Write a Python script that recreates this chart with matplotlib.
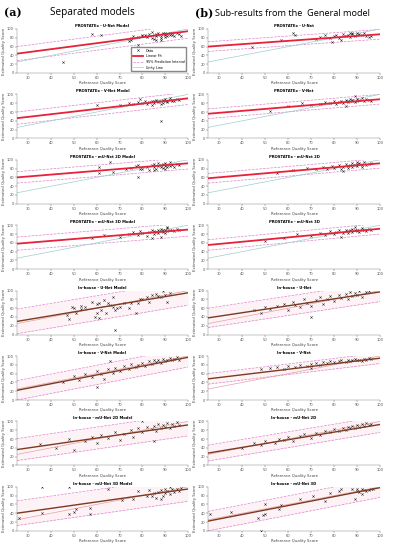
import numpy as np
import matplotlib.pyplot as plt

# titles of the panels
left_titles = ['PROSTATEx - U-Net Model', 'PROSTATEx - V-Net Model',
               'PROSTATEx - mU-Net 2D Model', 'PROSTATEx - mU-Net 3D Model',
               'In-house - U-Net Model', 'In-house - V-Net Model',
               'In-house - mU-Net 2D Model', 'In-house - mU-Net 3D Model']
right_titles = ['PROSTATEx - U-Net', 'PROSTATEx - V-Net',
                'PROSTATEx - mU-Net 2D', 'PROSTATEx - mU-Net 3D',
                'In-house - U-Net', 'In-house - V-Net',
                'In-house - mU-Net 2D', 'In-house - mU-Net 3D']

# fit line: value at x=25, value at x=100, PI half width
left_fit = [(44, 95, 16), (46, 91, 14), (60, 92, 13), (58, 90, 15),
            (30, 95, 28), (22, 97, 22), (36, 92, 25), (40, 95, 28)]
right_fit = [(60, 88, 11), (56, 89, 11), (58, 92, 11), (55, 92, 12),
             (38, 97, 22), (48, 95, 12), (28, 93, 18), (22, 98, 22)]

# scatter data, separated models
L1_x = [45, 58, 62, 74, 75, 75, 76, 78, 78, 80, 81, 82, 82, 83, 84, 85, 85, 86, 86, 87, 87, 88, 88, 89, 89, 90, 90, 90, 91, 91, 92, 92, 93, 93, 94, 95, 96, 97, 88, 86, 84, 80]
L1_y = [25, 88, 87, 72, 75, 79, 85, 63, 82, 84, 86, 85, 82, 88, 80, 86, 78, 88, 84, 86, 90, 84, 80, 88, 92, 86, 82, 90, 88, 84, 90, 87, 86, 92, 84, 90, 88, 84, 76, 74, 93, 86]
L2_x = [60, 70, 74, 76, 78, 80, 81, 82, 83, 84, 85, 85, 86, 87, 87, 88, 88, 89, 89, 90, 90, 91, 91, 92, 92, 93, 94, 95, 96, 88, 84, 79]
L2_y = [75, 76, 80, 78, 82, 80, 84, 78, 82, 86, 80, 85, 88, 82, 86, 40, 84, 80, 88, 84, 90, 86, 82, 88, 92, 86, 84, 90, 88, 78, 76, 90]
L3_x = [61, 61, 66, 67, 73, 75, 77, 78, 78, 79, 80, 82, 83, 84, 85, 85, 86, 87, 87, 88, 88, 89, 89, 90, 90, 91, 91, 92, 92, 93, 94, 95, 96, 85, 90]
L3_y = [70, 84, 95, 73, 78, 82, 85, 62, 88, 78, 80, 84, 76, 88, 84, 90, 80, 86, 92, 84, 88, 82, 90, 86, 92, 84, 88, 94, 86, 88, 84, 90, 88, 76, 80]
L4_x = [58, 63, 70, 74, 76, 78, 79, 80, 82, 83, 84, 85, 85, 86, 87, 87, 88, 88, 89, 89, 90, 90, 91, 91, 92, 93, 94, 95, 96, 84, 88, 91]
L4_y = [72, 78, 74, 80, 84, 78, 86, 82, 76, 84, 88, 80, 86, 84, 90, 82, 86, 92, 84, 88, 90, 82, 86, 94, 88, 90, 86, 92, 88, 70, 74, 96]
L5_x = [47, 48, 49, 50, 51, 53, 53, 55, 58, 59, 60, 60, 61, 61, 62, 63, 64, 65, 66, 67, 67, 68, 68, 69, 70, 72, 74, 75, 77, 78, 79, 80, 82, 83, 84, 86, 87, 88, 89, 90, 91, 92]
L5_y = [45, 35, 62, 60, 48, 65, 58, 62, 75, 40, 70, 48, 72, 38, 55, 78, 50, 72, 68, 62, 85, 55, 10, 60, 62, 72, 60, 72, 50, 72, 82, 80, 85, 75, 90, 92, 88, 85, 100, 90, 75, 95]
L6_x = [45, 50, 52, 55, 58, 60, 62, 63, 65, 67, 68, 70, 72, 74, 75, 77, 78, 80, 81, 83, 84, 85, 86, 87, 88, 89, 90, 91, 92, 93, 94, 95, 96, 60, 66]
L6_y = [40, 55, 45, 60, 52, 65, 58, 48, 70, 62, 72, 65, 78, 70, 82, 74, 80, 85, 78, 88, 82, 90, 86, 92, 84, 94, 88, 92, 96, 90, 94, 98, 92, 30, 88]
L7_x = [35, 42, 48, 50, 55, 58, 60, 62, 65, 68, 70, 72, 75, 76, 78, 80, 82, 84, 85, 86, 87, 88, 89, 90, 91, 92, 93, 94, 95, 96, 80, 85]
L7_y = [48, 40, 60, 35, 55, 65, 50, 70, 62, 75, 58, 72, 80, 65, 85, 75, 88, 82, 90, 78, 94, 86, 92, 88, 96, 84, 94, 90, 98, 92, 100, 55]
L8_x = [36, 48, 65, 26, 36, 48, 50, 51, 57, 57, 71, 76, 78, 82, 83, 85, 86, 87, 88, 89, 90, 90, 91, 92, 92, 93, 94, 95, 96, 97, 88, 84]
L8_y = [100, 100, 95, 28, 40, 38, 42, 50, 38, 52, 70, 72, 90, 80, 92, 85, 75, 88, 92, 80, 95, 86, 90, 100, 84, 94, 88, 96, 90, 98, 72, 78]

# scatter data, general model
R1_x = [44, 57, 62, 63, 72, 74, 76, 78, 79, 80, 81, 82, 84, 85, 86, 87, 87, 88, 89, 90, 90, 91, 92, 93, 94, 95, 96, 83, 88]
R1_y = [58, 75, 90, 86, 78, 82, 86, 80, 70, 84, 86, 80, 88, 84, 86, 82, 90, 88, 84, 90, 86, 88, 86, 90, 84, 82, 84, 76, 92]
R2_x = [52, 60, 66, 70, 74, 76, 78, 80, 81, 82, 83, 84, 85, 86, 86, 87, 88, 88, 89, 90, 90, 91, 92, 93, 94, 95, 96, 85, 89]
R2_y = [62, 74, 80, 76, 78, 82, 80, 84, 78, 82, 86, 80, 88, 82, 86, 90, 84, 88, 82, 90, 86, 88, 92, 86, 90, 88, 84, 74, 96]
R3_x = [55, 62, 68, 72, 75, 77, 79, 80, 82, 83, 84, 85, 86, 86, 87, 88, 88, 89, 90, 90, 91, 92, 92, 93, 94, 95, 96, 84, 90]
R3_y = [70, 76, 82, 78, 84, 80, 86, 82, 88, 80, 84, 90, 86, 82, 88, 92, 84, 88, 90, 86, 92, 88, 84, 94, 88, 90, 92, 74, 96]
R4_x = [50, 58, 64, 70, 74, 76, 78, 80, 81, 82, 84, 85, 86, 86, 87, 88, 88, 89, 90, 90, 91, 92, 92, 93, 94, 95, 96, 83, 89]
R4_y = [64, 70, 80, 76, 82, 78, 86, 80, 84, 88, 82, 90, 86, 82, 88, 84, 92, 88, 86, 90, 84, 88, 94, 90, 86, 92, 88, 74, 96]
R5_x = [45, 48, 50, 52, 55, 58, 60, 62, 63, 65, 67, 68, 70, 72, 74, 75, 77, 78, 80, 82, 83, 85, 86, 87, 88, 89, 90, 91, 92, 94, 95, 70]
R5_y = [55, 48, 62, 58, 65, 70, 56, 75, 68, 62, 80, 72, 66, 78, 85, 70, 82, 88, 76, 90, 84, 92, 80, 96, 88, 94, 90, 100, 86, 96, 98, 40]
R6_x = [48, 52, 55, 58, 60, 63, 65, 68, 70, 72, 74, 75, 77, 78, 80, 82, 83, 85, 86, 87, 88, 89, 90, 91, 92, 93, 94, 95, 96, 70]
R6_y = [70, 72, 74, 70, 78, 76, 80, 78, 82, 84, 80, 86, 84, 88, 86, 88, 90, 86, 92, 88, 90, 94, 90, 92, 88, 94, 92, 96, 94, 72]
R7_x = [40, 45, 48, 50, 54, 56, 58, 60, 62, 65, 67, 70, 72, 74, 76, 78, 80, 82, 84, 85, 86, 87, 88, 89, 90, 91, 92, 93, 94, 95, 96]
R7_y = [40, 52, 46, 55, 50, 60, 58, 64, 56, 66, 72, 62, 74, 70, 78, 76, 82, 78, 86, 80, 88, 84, 90, 86, 92, 88, 94, 90, 96, 92, 94]
R8_x = [26, 35, 47, 48, 49, 50, 50, 56, 57, 65, 71, 76, 78, 82, 83, 89, 90, 91, 92, 93, 94, 95, 96, 97, 92, 90, 88]
R8_y = [38, 42, 28, 0, 35, 38, 60, 50, 58, 72, 80, 68, 85, 90, 95, 72, 90, 88, 84, 92, 90, 92, 94, 95, 96, 95, 94]

left_x = [L1_x, L2_x, L3_x, L4_x, L5_x, L6_x, L7_x, L8_x]
left_y = [L1_y, L2_y, L3_y, L4_y, L5_y, L6_y, L7_y, L8_y]
right_x = [R1_x, R2_x, R3_x, R4_x, R5_x, R6_x, R7_x, R8_x]
right_y = [R1_y, R2_y, R3_y, R4_y, R5_y, R6_y, R7_y, R8_y]

W, H = 396, 550
fig = plt.figure(figsize=(W / 100, H / 100), dpi=100)


def panel(left, top, width, title, xs, ys, fit, legend=False):
    ax = fig.add_axes([left / W, 1 - (top + 44) / H, width / W, 44 / H])
    inhouse = title.startswith('In-house')
    xx = np.array([25, 100])
    yfit = fit[0] + (fit[1] - fit[0]) * (xx - 25) / 75
    if inhouse:
        ax.fill_between(xx, yfit - fit[2], yfit + fit[2], color='#fdf2f6', lw=0, zorder=0)
    ax.plot(xs, ys, 'x', color='#333333', ms=1.6, mew=0.4, label='Data', zorder=3)
    ax.plot(xx, yfit, color='#7a3b1e' if inhouse else '#e8213a', lw=1.0 if inhouse else 1.3,
            label='Linear Fit', zorder=4)
    ax.plot(xx, yfit + fit[2], '--', color='#e083c8', lw=0.5, label='95% Prediction Interval', zorder=2)
    ax.plot(xx, yfit - fit[2], '--', color='#e083c8', lw=0.5, zorder=2)
    ax.plot(xx, xx, color='#e8a0a8' if inhouse else '#9ccfcf', lw=0.5, label='Unity Line', zorder=2)
    ax.set_xlim(25, 100)
    ax.set_ylim(0, 100)
    ax.set_xticks(range(30, 101, 10))
    ax.set_yticks(range(0, 101, 20))
    ax.tick_params(labelsize=2.6, length=1.2, width=0.3, pad=1, colors='#555555')
    for s in ['top', 'right']:
        ax.spines[s].set_visible(False)
    for s in ['left', 'bottom']:
        ax.spines[s].set_linewidth(0.3)
        ax.spines[s].set_color('#777777')
    ax.set_title(title, fontsize=2.7, fontweight='bold', pad=1.5)
    ax.set_xlabel('Reference Quality Score', fontsize=2.8, labelpad=1, color='#444444')
    ax.set_ylabel('Estimated Quality Score', fontsize=2.8, labelpad=1, color='#444444')
    if legend:
        ax.legend(loc='lower right', fontsize=2.4, frameon=True, fancybox=False,
                  edgecolor='#888888', framealpha=1, borderpad=0.5, handlelength=3)
    return ax


for i in range(8):
    top = 29 + i * 65.4
    panel(17, top, 171, left_titles[i], left_x[i], left_y[i], left_fit[i], legend=(i == 0))
    panel(208, top, 172, right_titles[i], right_x[i], right_y[i], right_fit[i])

fig.text(4 / W, 1 - 13 / H, '(a)', fontsize=8, fontweight='bold', family='DejaVu Serif', va='center')
fig.text(92 / W, 1 - 13 / H, 'Separated models', fontsize=7.2, family='Open Sans', va='center', ha='center')
fig.text(195 / W, 1 - 13 / H, '(b)', fontsize=8, fontweight='bold', family='DejaVu Serif', va='center')
fig.text(215 / W, 1 - 13 / H, 'Sub-results from the  General model', fontsize=6.6, family='Open Sans',
         va='center', ha='left')

fig.savefig('out.png', dpi=100, facecolor='white')
